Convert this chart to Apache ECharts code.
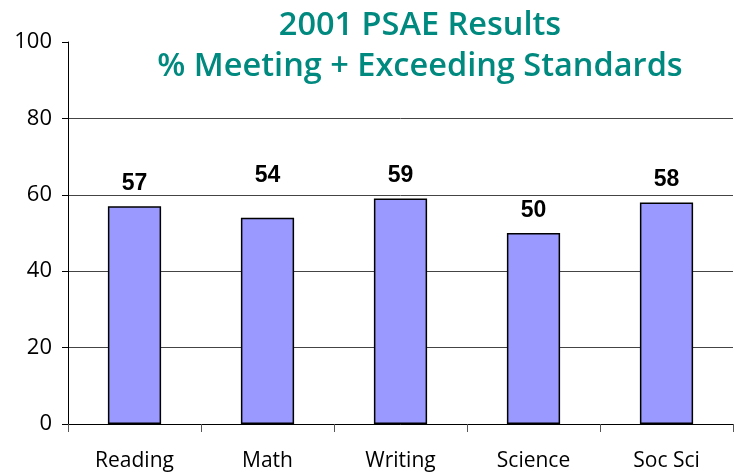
<!DOCTYPE html>
<html><head><meta charset="utf-8">
<script src="https://cdn.jsdelivr.net/npm/echarts@6/dist/echarts.min.js"></script>
<style>html,body{margin:0;padding:0;background:#fff}#c{width:736px;height:473px}</style>
</head><body><div id="c"></div>
<script>
const titleLines = ['2001 PSAE Results', '% Meeting + Exceeding Standards'];
const categories = ['Reading', 'Math', 'Writing', 'Science', 'Soc Sci'];
const values = [57, 54, 59, 50, 58];
const yTicks = [0, 20, 40, 60, 80, 100];

const chart = echarts.init(document.getElementById('c'), null, {renderer: 'canvas'});
chart.setOption({
  animation: false,
  backgroundColor: '#fff',
  title: {
    text: titleLines.join('\n'),
    left: 415, top: 0, textAlign: 'center',
    textStyle: {fontFamily: 'Open Sans', fontWeight: 600, fontSize: 32.5, color: '#00897F', lineHeight: 41}
  },
  grid: {left: 68, right: 3, top: 42, bottom: 49, containLabel: false},
  xAxis: {
    type: 'category', data: categories,
    axisLine: {lineStyle: {color: '#000', width: 1}},
    axisTick: {show: true, length: 8, alignWithLabel: false, lineStyle: {color: '#555'}},
    axisLabel: {fontFamily: 'Open Sans', fontSize: 21, color: '#000', margin: 27}
  },
  yAxis: {
    type: 'value', min: yTicks[0], max: yTicks[yTicks.length - 1], interval: 20,
    axisLine: {show: true, lineStyle: {color: '#000', width: 1}},
    axisTick: {show: true, length: 6, lineStyle: {color: '#000'}},
    axisLabel: {fontFamily: 'Open Sans', fontSize: 22, color: '#000', margin: 16},
    splitLine: {show: true, lineStyle: {color: ['#444', '#444', '#444', '#444', '#444', 'rgba(0,0,0,0)'], width: 1}}
  },
  series: [{
    type: 'bar',
    barWidth: '40%',
    data: values.map((v, i) => ({
      value: v,
      label: i === 1 ? {offset: [0, -20]} : undefined
    })),
    itemStyle: {color: '#9999FF', borderColor: '#000', borderWidth: 1.5},
    label: {show: true, position: 'top', distance: 11, fontFamily: 'Liberation Sans', fontWeight: 'bold', fontSize: 23, color: '#000'}
  }]
});
</script></body></html>
